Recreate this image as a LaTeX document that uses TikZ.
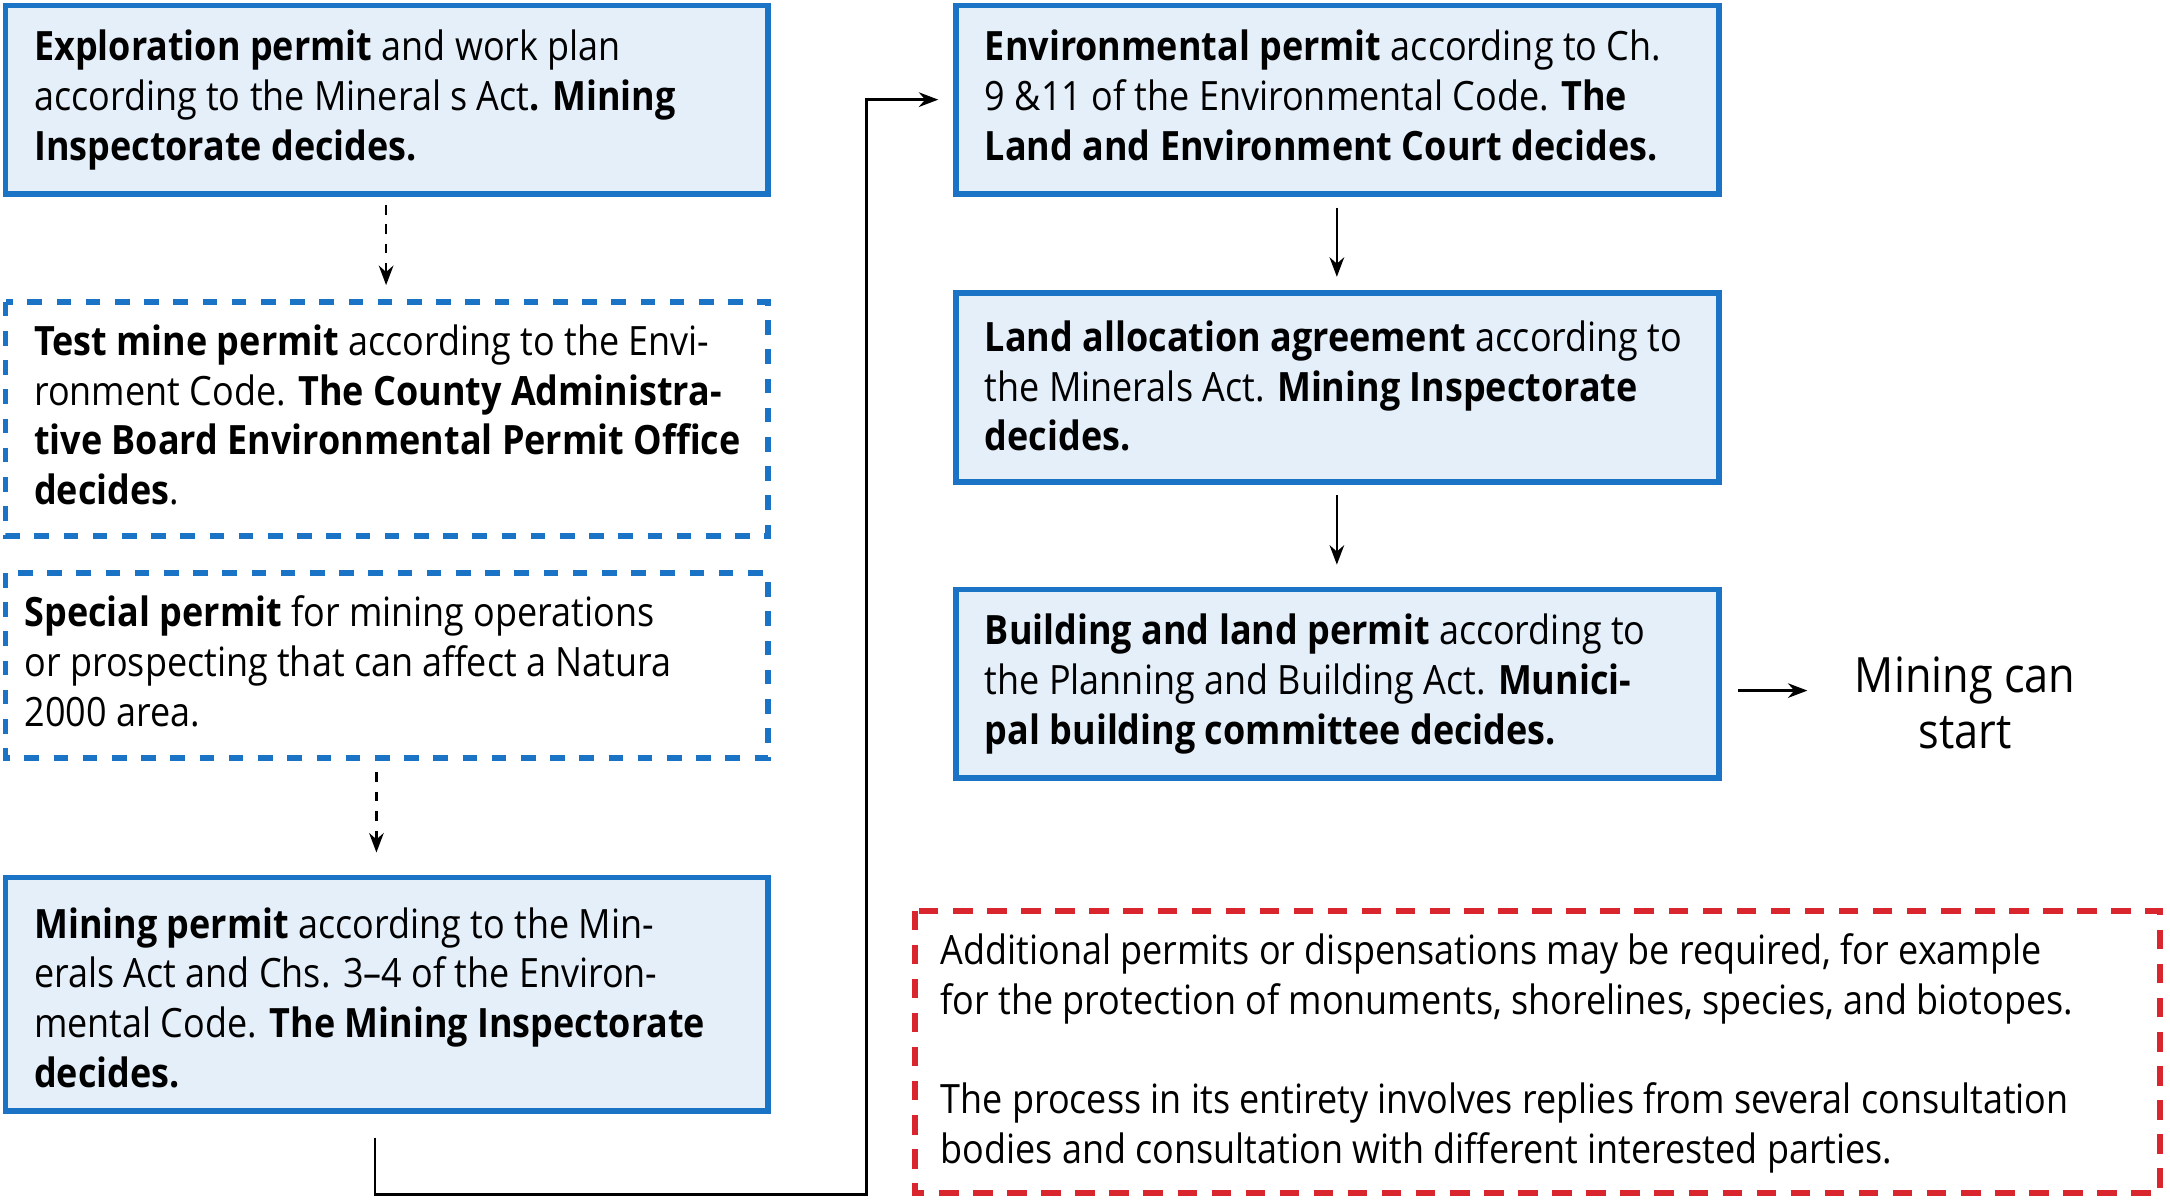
\documentclass[tikz,border=0pt]{standalone}
\usepackage{fontspec}
\setmainfont{Open Sans}[FakeStretch=0.89]
\usetikzlibrary{arrows.meta}
\definecolor{bl}{HTML}{1A73C4}
\definecolor{fl}{HTML}{E4EFFA}
\definecolor{rd}{HTML}{D9262E}
\begin{document}
\begin{tikzpicture}[x=0.01cm,y=-0.01cm,
  solidbox/.style={draw=bl,fill=fl,line width=1.2pt},
  dotbox/.style={draw=bl,line width=1.2pt,dash pattern=on 3pt off 3pt},
  txt/.style={anchor=north west,align=left,inner sep=0pt,font=\fontsize{8.3}{10.2}\selectfont},
  arr/.style={-{Stealth[length=4pt,width=3pt]},line width=0.5pt},
  darr/.style={arr,dash pattern=on 2pt off 2pt}]
\useasboundingbox (0,0) rectangle (1568,869);
\draw[solidbox] (4,4) rectangle (555,140);
\node[txt] (t1) at (24,21) {\textbf{Exploration permit} and work plan\\according to the Mineral s Act\textbf{. Mining}\\\textbf{Inspectorate decides.}};
\draw[dotbox] (4,218) rectangle (555,387);
\node[txt] (t2) at (24,234) {\textbf{Test mine permit} according to the Envi-\\ronment Code. \textbf{The County Administra-}\\\textbf{tive Board Environmental Permit Office}\\\textbf{decides}.};
\draw[dotbox] (4,414) rectangle (555,548);
\node[txt] (t3) at (17,430) {\textbf{Special permit} for mining operations\\or prospecting that can affect a Natura\\2000 area.};
\draw[solidbox] (4,634) rectangle (555,803);
\node[txt] (t4) at (24,655) {\textbf{Mining permit} according to the Min-\\erals Act and Chs. 3--4 of the Environ-\\mental Code. \textbf{The Mining Inspectorate}\\\textbf{decides.}};
\draw[solidbox] (691,4) rectangle (1242,140);
\node[txt] (t5) at (711,21) {\textbf{Environmental permit} according to Ch.\\9 \&11 of the Environmental Code. \textbf{The}\\\textbf{Land and Environment Court decides.}};
\draw[solidbox] (691,212) rectangle (1242,348);
\node[txt] (t6) at (711,231) {\textbf{Land allocation agreement} according to\\the Minerals Act. \textbf{Mining Inspectorate}\\\textbf{decides.}};
\draw[solidbox] (691,426) rectangle (1242,562);
\node[txt] (t7) at (711,443) {\textbf{Building and land permit} according to\\the Planning and Building Act. \textbf{Munici-}\\\textbf{pal building committee decides.}};
\node[align=center,inner sep=0pt,font=\fontsize{10}{11.5}\selectfont] (ms) at (1420,508) {Mining can\\start};
\draw[draw=rd,line width=1.2pt,dash pattern=on 4pt off 3pt] (661,658) rectangle (1561,862);
\node[txt] (t8) at (679,674) {Additional permits or dispensations may be required, for example\\for the protection of monuments, shorelines, species, and biotopes.\\[10.2pt]The process in its entirety involves replies from several consultation\\bodies and consultation with different interested parties.};
\coordinate (a1) at (279,148); \coordinate (a2) at (279,206);
\draw[darr] (a1) -- (a2);
\coordinate (b1) at (272,558); \coordinate (b2) at (272,616);
\draw[darr] (b1) -- (b2);
\coordinate (c1) at (966,150); \coordinate (c2) at (966,200);
\draw[arr] (c1) -- (c2);
\coordinate (d1) at (966,358); \coordinate (d2) at (966,408);
\draw[arr] (d1) -- (d2);
\coordinate (e1) at (1256,499); \coordinate (e2) at (1306,499);
\draw[arr] (e1) -- (e2);
\coordinate (f1) at (271,822); \coordinate (f2) at (678,72);
\draw[arr] (f1) -- (271,863) -- (626,863) -- (626,72) -- (f2);
\end{tikzpicture}
\end{document}
